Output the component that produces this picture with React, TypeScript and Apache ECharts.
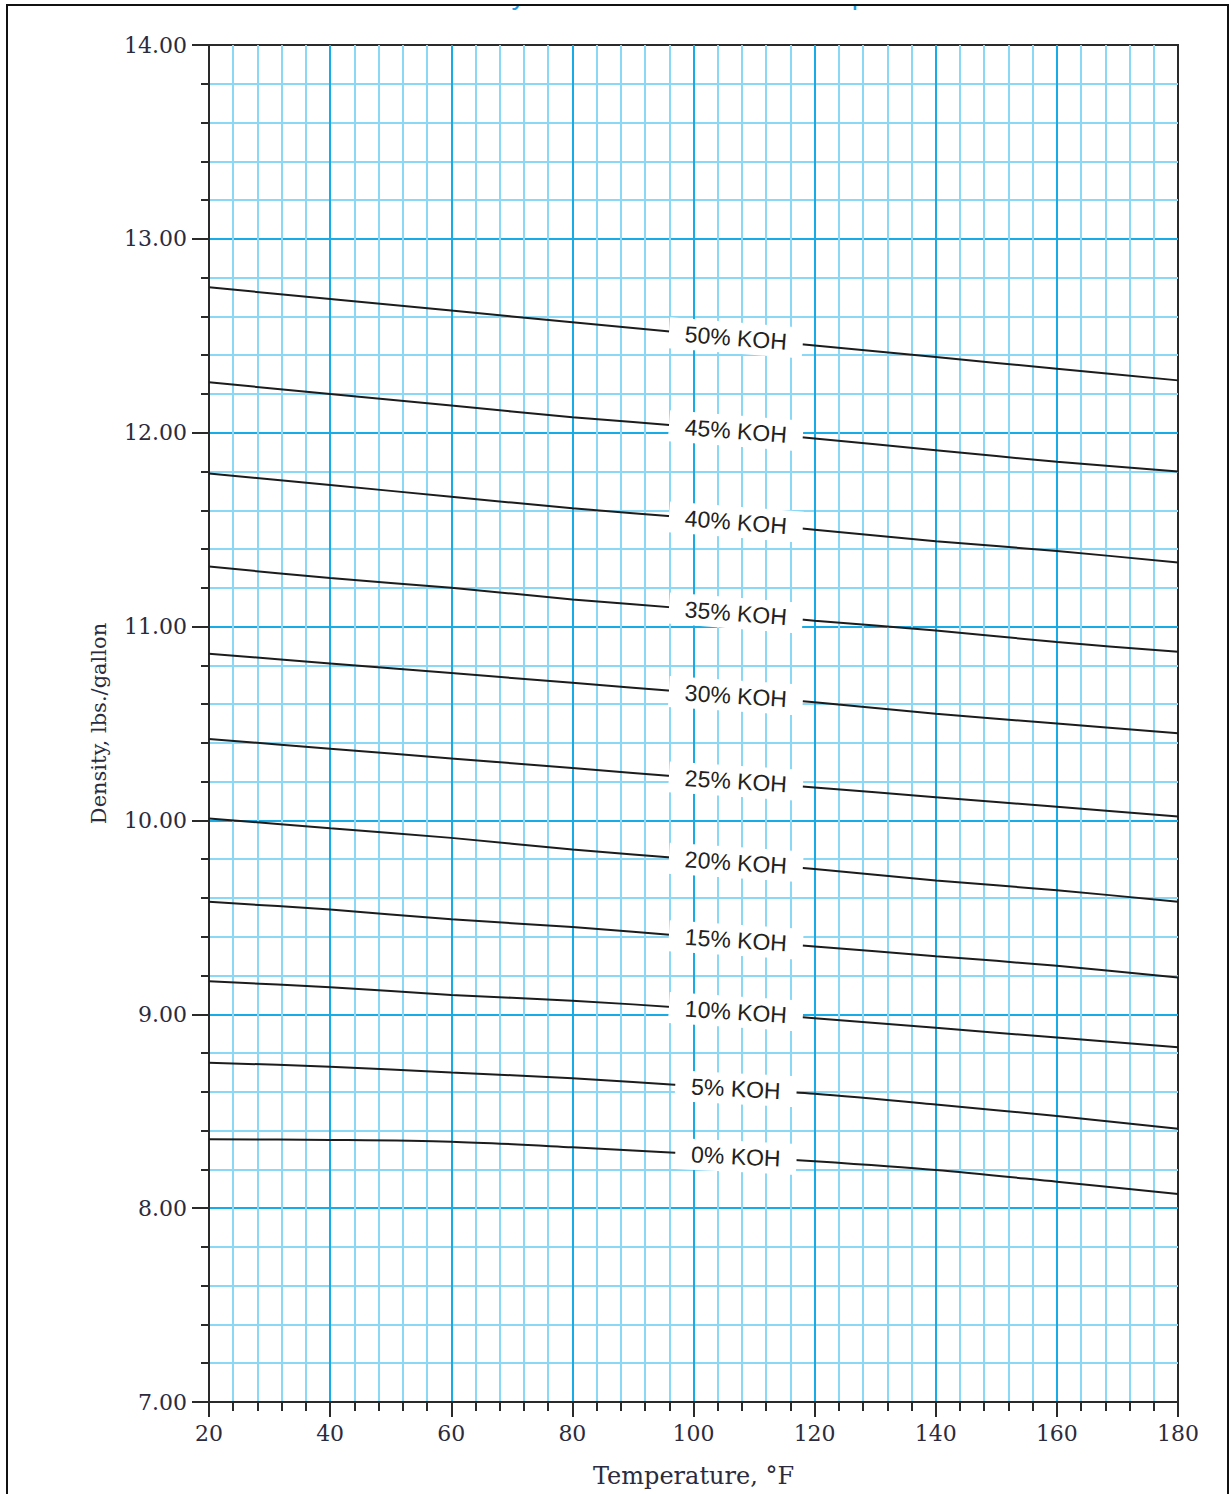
import React, { useEffect, useRef } from "react";
import * as echarts from "echarts";

// Temperature (°F) sample points
const temperatures = [20, 40, 60, 80, 100, 120, 140, 160, 180];

// Density (lbs./gallon) for each KOH concentration
const koh50 = [12.75, 12.69, 12.63, 12.57, 12.51, 12.45, 12.39, 12.33, 12.27];
const koh45 = [12.26, 12.2, 12.14, 12.08, 12.03, 11.97, 11.91, 11.85, 11.8];
const koh40 = [11.79, 11.73, 11.67, 11.61, 11.56, 11.5, 11.44, 11.39, 11.33];
const koh35 = [11.31, 11.25, 11.2, 11.14, 11.09, 11.03, 10.98, 10.92, 10.87];
const koh30 = [10.86, 10.81, 10.76, 10.71, 10.66, 10.61, 10.55, 10.5, 10.45];
const koh25 = [10.42, 10.37, 10.32, 10.27, 10.22, 10.17, 10.12, 10.07, 10.02];
const koh20 = [10.01, 9.96, 9.91, 9.85, 9.8, 9.75, 9.69, 9.64, 9.58];
const koh15 = [9.58, 9.54, 9.49, 9.45, 9.4, 9.35, 9.3, 9.25, 9.19];
const koh10 = [9.17, 9.14, 9.1, 9.07, 9.03, 8.98, 8.93, 8.88, 8.83];
const koh5 = [8.75, 8.73, 8.7, 8.67, 8.63, 8.59, 8.535, 8.475, 8.41];
const koh0 = [8.355, 8.352, 8.343, 8.314, 8.28, 8.242, 8.197, 8.136, 8.073];

const seriesNames = [
  "50% KOH",
  "45% KOH",
  "40% KOH",
  "35% KOH",
  "30% KOH",
  "25% KOH",
  "20% KOH",
  "15% KOH",
  "10% KOH",
  "5% KOH",
  "0% KOH",
];
const seriesValues = [koh50, koh45, koh40, koh35, koh30, koh25, koh20, koh15, koh10, koh5, koh0];

// Axis ranges
const xMin = 20;
const xMax = 180;
const xStep = 20;
const yMin = 7;
const yMax = 14;
const yStep = 1;

// Temperature at which the curve labels sit
const labelTemp = 107;

const titleText = "Density of KOH Solutions vs. Temperature";
const xName = "Temperature, °F";
const yName = "Density, lbs./gallon";

function valueAt(vals: number[], t: number): number {
  for (let i = 0; i < temperatures.length - 1; i++) {
    const a = temperatures[i];
    const b = temperatures[i + 1];
    if (t >= a && t <= b) {
      const f = (t - a) / (b - a);
      return vals[i] + (vals[i + 1] - vals[i]) * f;
    }
  }
  return vals[vals.length - 1];
}

const SERIF = "'DejaVu Serif', 'Liberation Serif', serif";
const SANS = "'Liberation Sans', Arial, sans-serif";
const AXIS_COLOR = "#2a2a2a";
const LABEL_COLOR = "#2b2b3d";

export default function App() {
  const ref = useRef<HTMLDivElement>(null);

  useEffect(() => {
    if (!ref.current) return;
    const chart = echarts.init(ref.current, null, { renderer: "svg" });

    const axisCommon = {
      type: "value" as const,
      nameLocation: "middle" as const,
      axisLine: { show: true, onZero: false, lineStyle: { color: AXIS_COLOR, width: 2 } },
      axisLabel: { fontFamily: SERIF, fontSize: 22, color: LABEL_COLOR },
      splitLine: {
        show: true,
        showMinLine: false,
        showMaxLine: false,
        lineStyle: { color: "#17ace6", width: 2 },
      },
      minorSplitLine: { show: true, lineStyle: { color: "#8ad7f6", width: 2 } },
    };

    const option: any = {
      animation: false,
      backgroundColor: "#ffffff",
      grid: {
        left: 209,
        top: 45,
        right: 53,
        bottom: 92,
        show: true,
        borderColor: AXIS_COLOR,
        borderWidth: 2,
        backgroundColor: "transparent",
      },
      xAxis: {
        ...axisCommon,
        min: xMin,
        max: xMax,
        interval: xStep,
        name: xName,
        nameGap: 62,
        nameTextStyle: { fontFamily: SERIF, fontSize: 24, color: LABEL_COLOR },
        axisTick: { show: true, length: 15, lineStyle: { color: AXIS_COLOR, width: 2 } },
        minorTick: { show: true, splitNumber: 5, length: 9, lineStyle: { color: AXIS_COLOR, width: 2 } },
        axisLabel: { ...axisCommon.axisLabel, margin: 20 },
      },
      yAxis: {
        ...axisCommon,
        min: yMin,
        max: yMax,
        interval: yStep,
        name: yName,
        nameGap: 100,
        nameTextStyle: { fontFamily: SERIF, fontSize: 21, color: LABEL_COLOR },
        axisTick: { show: true, length: 17, lineStyle: { color: AXIS_COLOR, width: 2 } },
        minorTick: { show: true, splitNumber: 5, length: 8, lineStyle: { color: AXIS_COLOR, width: 2 } },
        axisLabel: {
          ...axisCommon.axisLabel,
          margin: 22,
          formatter: (v: number) => v.toFixed(2),
        },
      },
      graphic: [
        {
          type: "text",
          z: 50,
          x: 694,
          y: 8,
          style: {
            text: titleText,
            fill: "#1a9be0",
            font: "28px 'Liberation Sans', Arial, sans-serif",
            textAlign: "center",
            textVerticalAlign: "bottom",
          },
        },
        {
          type: "rect",
          z: 60,
          shape: { x: 0, y: 0, width: 1231, height: 6 },
          style: { fill: "#ffffff" },
          silent: true,
        },
        {
          type: "rect",
          z: 100,
          shape: { x: 7, y: 5, width: 1221, height: 1510 },
          style: { fill: "none", stroke: "#111", lineWidth: 2 },
          silent: true,
        },
      ],
      series: seriesNames.map((name, i) => ({
        type: "line",
        name,
        data: temperatures.map((t, j) => [t, seriesValues[i][j]]),
        showSymbol: false,
        symbol: "none",
        smooth: 0.3,
        lineStyle: { color: "#1c1c1c", width: 2 },
        z: 3,
      })),
    };

    chart.setOption(option);

    const updates = seriesNames.map((name, i) => {
      const vals = seriesValues[i];
      const p1 = chart.convertToPixel({ gridIndex: 0 }, [100, valueAt(vals, 100)]) as number[];
      const p2 = chart.convertToPixel({ gridIndex: 0 }, [114, valueAt(vals, 114)]) as number[];
      const angle = (-Math.atan2(p2[1] - p1[1], p2[0] - p1[0]) * 180) / Math.PI;
      return {
        markPoint: {
          silent: true,
          symbol: "circle",
          symbolSize: 1,
          itemStyle: { color: "rgba(0,0,0,0)" },
          label: {
            show: true,
            position: "inside",
            formatter: name,
            backgroundColor: "#ffffff",
            padding: [4, 16, 4, 16],
            fontFamily: SANS,
            fontSize: 23,
            color: "#222",
            rotate: angle * 0.8,
          },
          data: [{ coord: [labelTemp, valueAt(vals, labelTemp)] }],
        },
      };
    });
    chart.setOption({ series: updates });

    return () => chart.dispose();
  }, []);

  return (
    <div
      ref={ref}
      style={{ position: "absolute", left: 0, top: 0, width: 1231, height: 1494, background: "#fff" }}
    />
  );
}
